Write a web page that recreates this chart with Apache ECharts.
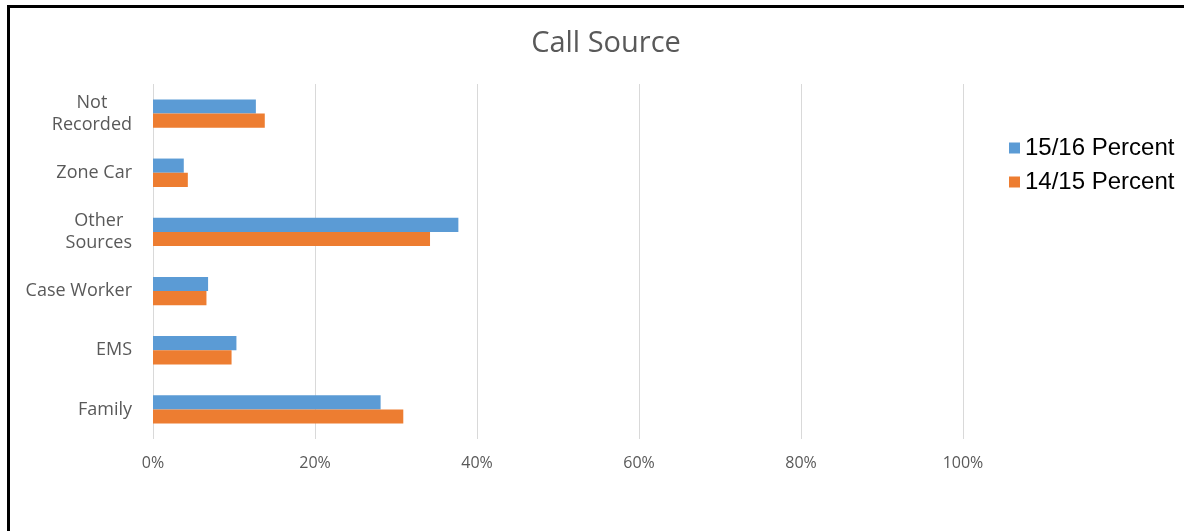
<!DOCTYPE html>
<html>
<head>
<meta charset="utf-8">
<script src="https://cdn.jsdelivr.net/npm/echarts@6/dist/echarts.min.js"></script>
<style>
html,body{margin:0;padding:0;background:#fff;}
#wrap{position:relative;width:1184px;height:531px;overflow:hidden;}
#chart{position:absolute;left:0;top:0;width:1184px;height:531px;}
#bt{position:absolute;left:7px;top:5px;width:1177px;height:3px;background:#000;}
#bl{position:absolute;left:7px;top:5px;width:3px;height:526px;background:#000;}
</style>
</head>
<body>
<div id="wrap"><div id="chart"></div><div id="bt"></div><div id="bl"></div></div>
<script>
const categories = ['Not\nRecorded', 'Zone Car', 'Other\nSources', 'Case Worker', 'EMS', 'Family'];
const seriesNames = ['15/16 Percent', '14/15 Percent'];
const pct1516 = [12.7, 3.8, 37.7, 6.8, 10.3, 28.1];
const pct1415 = [13.8, 4.3, 34.2, 6.6, 9.7, 30.9];
const xTicks = [0, 20, 40, 60, 80, 100];

const chart = echarts.init(document.getElementById('chart'));
chart.setOption({
  animation: false,
  title: {
    text: 'Call Source',
    left: 601, top: 24, textAlign: 'center',
    textStyle: {fontFamily: 'Open Sans', fontSize: 29, fontWeight: 'normal', color: '#595959'}
  },
  legend: {
    orient: 'vertical', left: 1004, top: 131,
    icon: 'rect', itemWidth: 11, itemHeight: 11, itemGap: 10,
    textStyle: {fontFamily: 'Liberation Sans', fontSize: 24, color: '#000'},
    data: seriesNames
  },
  grid: {left: 153, right: 221, top: 84, bottom: 92, containLabel: false},
  xAxis: {
    type: 'value', min: xTicks[0], max: xTicks[xTicks.length - 1], interval: 20,
    axisLine: {show: false}, axisTick: {show: false},
    splitLine: {lineStyle: {color: '#d9d9d9', width: 1}},
    axisLabel: {formatter: '{value}%', margin: 16, fontFamily: 'Open Sans', fontSize: 16, color: '#595959'}
  },
  yAxis: {
    type: 'category', data: categories, inverse: true,
    axisLine: {show: false}, axisTick: {show: false},
    axisLabel: {
      margin: 21, fontFamily: 'Open Sans', fontSize: 18, color: '#595959', lineHeight: 22,
      formatter: v => v.split('\n').map(s => '{a|' + s + '}').join('\n'),
      rich: {a: {align: 'center', fontFamily: 'Open Sans', fontSize: 18, color: '#595959', lineHeight: 22}}
    }
  },
  series: [
    {name: seriesNames[0], type: 'bar', data: pct1516, itemStyle: {color: '#5b9bd5'}, barGap: '0%', barCategoryGap: '52%'},
    {name: seriesNames[1], type: 'bar', data: pct1415, itemStyle: {color: '#ed7d31'}, barGap: '0%', barCategoryGap: '52%'}
  ]
});
</script>
</body>
</html>
